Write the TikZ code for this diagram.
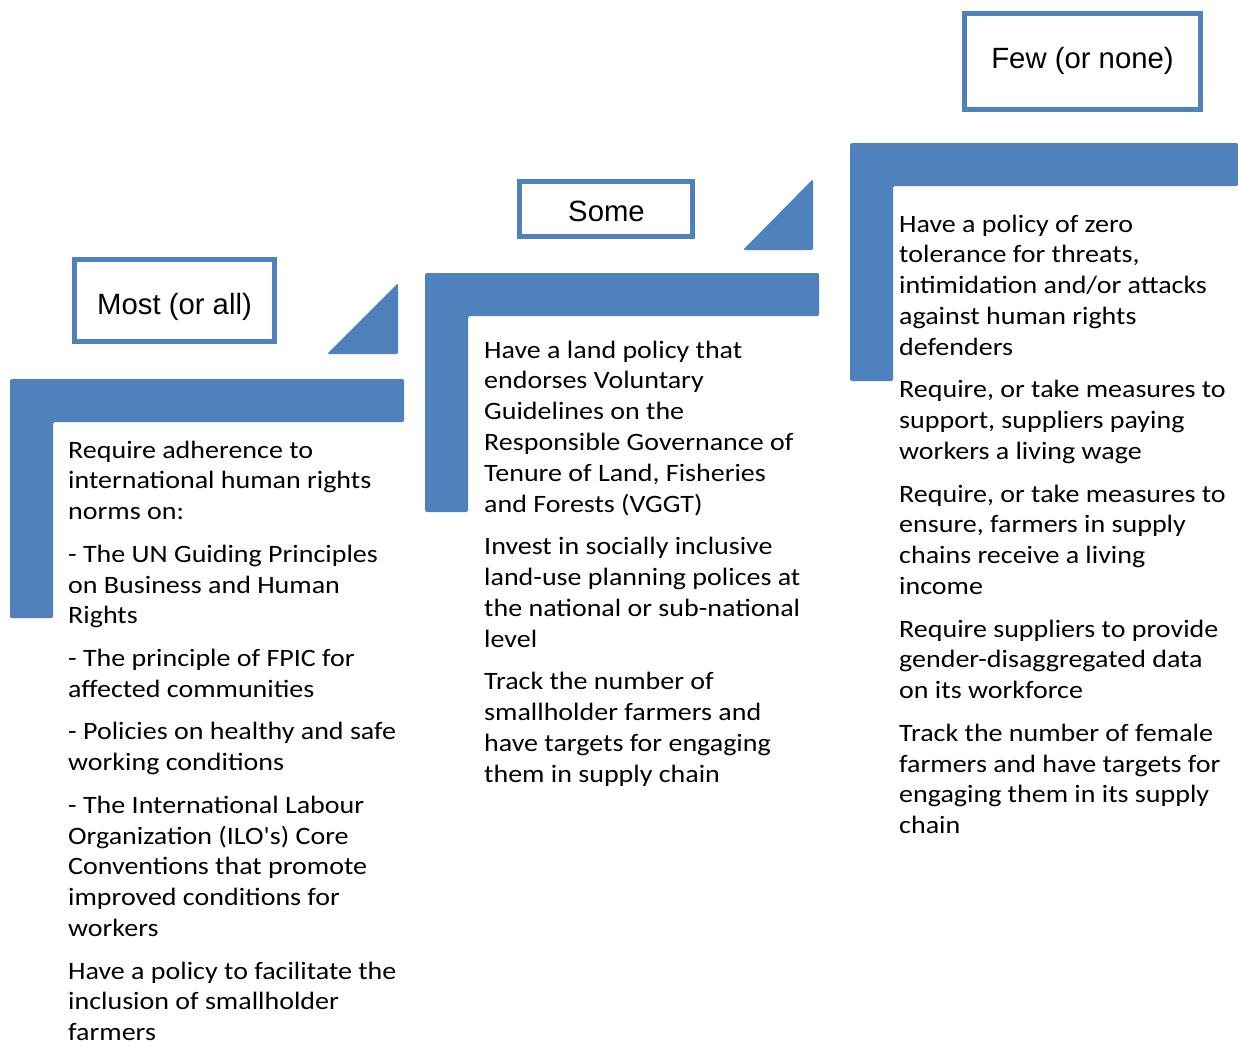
\documentclass[tikz,border=0pt]{standalone}
\usepackage{fontspec}
\newfontfamily\bodyfont{Carlito}[Ligatures=TeXOff,FakeStretch=1.12]
\newfontfamily\labfont{Liberation Sans}
\definecolor{accent}{RGB}{79,129,189}
\begin{document}
\begin{tikzpicture}[x=1pt,y=-1pt,
  bar/.style={fill=accent,draw=none,rounded corners=1.5pt},
  lbox/.style={draw=accent,line width=5pt,inner sep=0pt,fill=none},
  lab/.style={font=\labfont\fontsize{29.3}{34}\selectfont,inner sep=0pt},
  body/.style={font=\bodyfont\fontsize{25}{30.8}\selectfont,inner sep=0pt,anchor=base west}]
\useasboundingbox (0,0) rectangle (1238,1046);
% L-shaped bars
\fill[bar] (10,379) -- (404,379) -- (404,422) -- (53,422) -- (53,618) -- (10,618) -- cycle;
\fill[bar] (425,273) -- (819,273) -- (819,316) -- (468,316) -- (468,512) -- (425,512) -- cycle;
\fill[bar] (850,143) -- (1238,143) -- (1238,186) -- (893,186) -- (893,381) -- (850,381) -- cycle;
% triangles
\fill[bar] (327,354) -- (398,354) -- (398,283) -- cycle;
\fill[bar] (743,250) -- (813,250) -- (813,179) -- cycle;
% label boxes
\node[lbox,minimum width=200pt,minimum height=82pt] (b1) at (174.5,300.5) {};
\node[lbox,minimum width=173pt,minimum height=55pt] (b2) at (606,209) {};
\node[lbox,minimum width=236pt,minimum height=96pt] (b3) at (1082.5,61.5) {};
\node[lab] (t1) at (174.5,306.5) {Most (or all)};
\node[lab] (t2) at (606.5,211.5) {Some};
\node[lab] (t3) at (1082.5,60.5) {Few (or none)};
% text blocks
\node[body] (c1) at (68,458) {\parbox[t]{400pt}{\raggedright
Require adherence to\\
international human rights\\
norms on:\\[11.8pt]
- The UN Guiding Principles\\
on Business and Human\\
Rights\\[11.8pt]
- The principle of FPIC for\\
affected communities\\[11.8pt]
- Policies on healthy and safe\\
working conditions\\[11.8pt]
- The International Labour\\
Organization (ILO's) Core\\
Conventions that promote\\
improved conditions for\\
workers\\[11.8pt]
Have a policy to facilitate the\\
inclusion of smallholder\\
farmers}};
\node[body] (c2) at (484,358) {\parbox[t]{400pt}{\raggedright
Have a land policy that\\
endorses Voluntary\\
Guidelines on the\\
Responsible Governance of\\
Tenure of Land, Fisheries\\
and Forests (VGGT)\\[11.8pt]
Invest in socially inclusive\\
land-use planning polices at\\
the national or sub-national\\
level\\[11.8pt]
Track the number of\\
smallholder farmers and\\
have targets for engaging\\
them in supply chain}};
\node[body] (c3) at (899,232) {\parbox[t]{400pt}{\raggedright
Have a policy of zero\\
tolerance for threats,\\
intimidation and/or attacks\\
against human rights\\
defenders\\[11.8pt]
Require, or take measures to\\
support, suppliers paying\\
workers a living wage\\[11.8pt]
Require, or take measures to\\
ensure, farmers in supply\\
chains receive a living\\
income\\[11.8pt]
Require suppliers to provide\\
gender-disaggregated data\\
on its workforce\\[11.8pt]
Track the number of female\\
farmers and have targets for\\
engaging them in its supply\\
chain}};
\end{tikzpicture}
\end{document}
